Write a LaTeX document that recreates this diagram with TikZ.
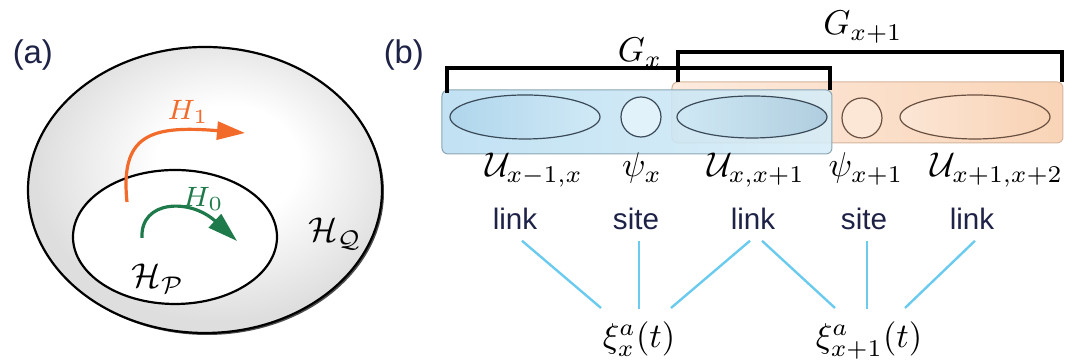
\documentclass[tikz,border=0pt]{standalone}
\usepackage{fontspec}
\newfontfamily\labfont{Liberation Sans}
\usetikzlibrary{arrows.meta}
\definecolor{hone}{HTML}{F26B2B}
\definecolor{hzero}{HTML}{1E7A4A}
\definecolor{cline}{HTML}{6ACBEE}
\definecolor{navy}{HTML}{1E2246}
\definecolor{blueL}{HTML}{B9DDF1}
\definecolor{blueR}{HTML}{D6EDF8}
\definecolor{blueEL}{HTML}{B0D6EC}
\definecolor{blueER}{HTML}{D0E9F6}
\definecolor{orL}{HTML}{FDEBDE}
\definecolor{orR}{HTML}{F9D4B7}
\definecolor{orEL}{HTML}{FCE6D6}
\definecolor{orER}{HTML}{F8D2B4}
\definecolor{blueedge}{HTML}{3A4A58}
\definecolor{oredge}{HTML}{6A5040}
\pgfdeclareradialshading{bowl}{\pgfpoint{4bp}{6bp}}{color(0bp)=(white); color(10bp)=(white); color(26bp)=(black!13); color(50bp)=(black!13)}
\newcommand{\mlab}[1]{\scalebox{0.86}{$#1$}}
\begin{document}
\begin{tikzpicture}[x=0.25pt,y=-0.25pt,
  mathlab/.style={font=\fontsize{10}{12}\selectfont, inner sep=0pt, anchor=base},
  smallmath/.style={font=\fontsize{7}{9}\selectfont, inner sep=0pt, anchor=base},
  sanslab/.style={font=\labfont\fontsize{7.4}{9}\selectfont, text=navy, anchor=base, inner sep=0pt},
  panel/.style={font=\labfont\fontsize{8.2}{10}\selectfont, text=navy, anchor=base west, inner sep=0pt},
  wire/.style={draw=cline, line width=0.6pt},
  bracket/.style={draw=black, line width=0.9pt, line join=miter},
  blueell/.style={draw=blueedge, line width=0.3pt},
  orell/.style={draw=oredge, line width=0.3pt},
]
\useasboundingbox (0,0) rectangle (1076,360);

% ---------------- panel (a)
\node[panel] (pa) at (12,64) {(a)};
\fill[black!70] (207,192) ellipse [x radius=177, y radius=143];
\shade[shading=bowl] (205,190) ellipse [x radius=177, y radius=143];
\draw[line width=0.55pt] (205,190) ellipse [x radius=177, y radius=143];
\draw[fill=white, line width=0.55pt] (175,237) ellipse [x radius=102, y radius=67];

\draw[hone, line width=0.8pt, -{Triangle[length=7pt,width=4.5pt]}]
  (127,202) .. controls (120,135) and (150,125) .. (245,133);
\draw[hzero, line width=0.8pt, -{Triangle[length=7.5pt,width=4.5pt]}]
  (142,238) .. controls (140,200) and (190,198) .. (237,241);

\node[smallmath, text=hone] (h1) at (188,120) {$H_1$};
\node[smallmath, text=hzero] (h0) at (203,207) {$H_0$};
\node[mathlab] (hp) at (158,288) {\mlab{\mathcal{H}_{\mathcal{P}}}};
\node[mathlab] (hq) at (335,242) {\mlab{\mathcal{H}_{\mathcal{Q}}}};

% ---------------- panel (b)
\node[panel] (pb) at (383,64) {(b)};

% orange block
\shade[left color=orL, right color=orR, rounded corners=1.5pt] (672,82) rectangle (1063,143);
\draw[draw=orR!85!black, line width=0.25pt, rounded corners=1.5pt] (672,82) rectangle (1063,143);
\draw[orell, fill=orEL] (862,118) circle [radius=20];
\shade[left color=orEL, right color=orER] (975,117) ellipse [x radius=75, y radius=22];
\draw[orell] (975,117) ellipse [x radius=75, y radius=22];

% blue block
\shade[left color=blueL, right color=blueR, rounded corners=1.5pt, fill opacity=0.88] (442,90) rectangle (832,154);
\draw[draw=blueL!75!black, line width=0.25pt, rounded corners=1.5pt] (442,90) rectangle (832,154);
\shade[left color=blueEL, right color=blueER] (525,117) ellipse [x radius=75, y radius=22];
\draw[blueell] (525,117) ellipse [x radius=75, y radius=22];
\draw[blueell, fill=blueR!70!white] (641,117) circle [radius=20];
\shade[left color=blueER, right color=blueEL!85!gray, fill opacity=0.85] (752,117) ellipse [x radius=75, y radius=21];
\draw[blueell] (752,117) ellipse [x radius=75, y radius=21];

% brackets
\draw[bracket] (447,93) -- (447,68) -- (830,68) -- (830,90);
\draw[bracket] (678,82) -- (678,52) -- (1062,52) -- (1062,82);
\node[mathlab] (gx) at (640,62) {\mlab{G_x}};
\node[mathlab] (gx1) at (863,35) {\mlab{G_{x+1}}};

% labels under blocks
\node[mathlab] (lU1) at (534,177) {\mlab{\mathcal{U}_{x-1,x}}};
\node[mathlab] (lpsi1) at (642,177) {\mlab{\psi_x}};
\node[mathlab] (lU2) at (756,177) {\mlab{\mathcal{U}_{x,x+1}}};
\node[mathlab] (lpsi2) at (866,177) {\mlab{\psi_{x+1}}};
\node[mathlab] (lU3) at (997,177) {\mlab{\mathcal{U}_{x+1,x+2}}};

\node[sanslab] (link1) at (515,230) {link};
\node[sanslab] (site1) at (636,230) {site};
\node[sanslab] (link2) at (753,230) {link};
\node[sanslab] (site2) at (864,230) {site};
\node[sanslab] (link3) at (972,230) {link};

\node[mathlab] (xi1) at (639,348) {\mlab{\xi^a_x(t)}};
\node[mathlab] (xi2) at (869,348) {\mlab{\xi^a_{x+1}(t)}};

\draw[wire] ([shift={(7,10)}]link1.south) -- ([shift={(-38,-40)}]xi1.base);
\draw[wire] ([shift={(3,10)}]site1.south) -- ([shift={(0,-39)}]xi1.base);
\draw[wire] ([shift={(-3,10)}]link2.south) -- ([shift={(32,-40)}]xi1.base);
\draw[wire] ([shift={(9,10)}]link2.south) -- ([shift={(-34,-40)}]xi2.base);
\draw[wire] ([shift={(3,10)}]site2.south) -- ([shift={(-2,-39)}]xi2.base);
\draw[wire] ([shift={(3,10)}]link3.south) -- ([shift={(36,-40)}]xi2.base);
\end{tikzpicture}
\end{document}
